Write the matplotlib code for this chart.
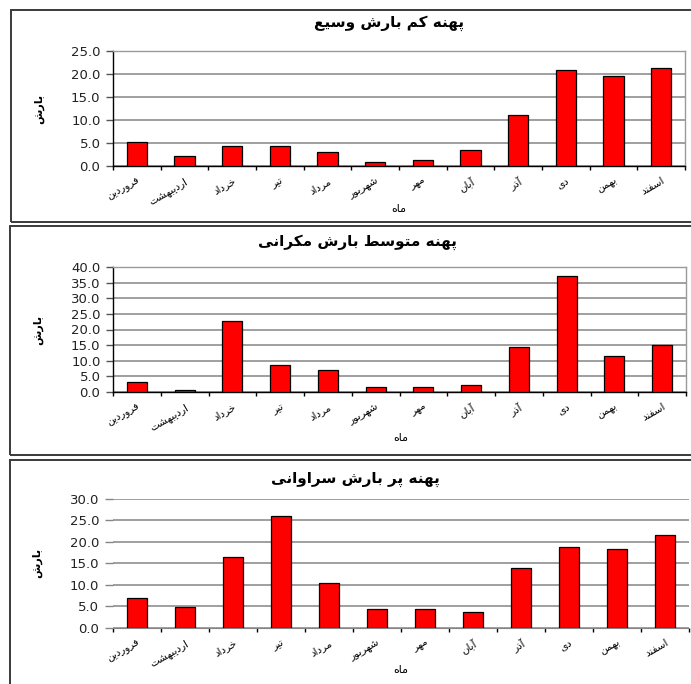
import numpy as np
import matplotlib
matplotlib.use("Agg")
import matplotlib.pyplot as plt
from matplotlib.patches import Rectangle
from matplotlib.ticker import FormatStrFormatter

plt.rcParams['font.family'] = ['DejaVu Sans']

# ---- data -------------------------------------------------------------
months = ["فروردین", "اردیبهشت", "خرداد", "تیر", "مرداد", "شهریور",
          "مهر", "آبان", "آذر", "دی", "بهمن", "اسفند"]

titles = ["پهنه کم بارش وسیع",
          "پهنه متوسط بارش مکرانی",
          "پهنه پر بارش سراوانی"]

y_label = "بارش"
x_label = "ماه"

rain_low = [5.2, 2.1, 4.4, 4.4, 3.0, 0.9, 1.2, 3.5, 11.0, 20.8, 19.5, 21.4]
rain_mid = [3.3, 0.7, 22.6, 8.7, 6.9, 1.7, 1.5, 2.3, 14.3, 37.0, 11.5, 14.9]
rain_high = [7.0, 4.9, 16.4, 25.9, 10.4, 4.5, 4.5, 3.8, 13.8, 18.7, 18.4, 21.5]

y_max = [25, 40, 30]

# ---- minimal Persian shaping (contextual forms + right-to-left order) --
_FORMS = {
    'ا': ('\uFE8D', '\uFE8E', None, None),
    'آ': ('\uFE81', '\uFE82', None, None),
    'ب': ('\uFE8F', '\uFE90', '\uFE91', '\uFE92'),
    'پ': ('\uFB56', '\uFB57', '\uFB58', '\uFB59'),
    'ت': ('\uFE95', '\uFE96', '\uFE97', '\uFE98'),
    'خ': ('\uFEA5', '\uFEA6', '\uFEA7', '\uFEA8'),
    'د': ('\uFEA9', '\uFEAA', None, None),
    'ذ': ('\uFEAB', '\uFEAC', None, None),
    'ر': ('\uFEAD', '\uFEAE', None, None),
    'ز': ('\uFEAF', '\uFEB0', None, None),
    'س': ('\uFEB1', '\uFEB2', '\uFEB3', '\uFEB4'),
    'ش': ('\uFEB5', '\uFEB6', '\uFEB7', '\uFEB8'),
    'ط': ('\uFEC1', '\uFEC2', '\uFEC3', '\uFEC4'),
    'ع': ('\uFEC9', '\uFECA', '\uFECB', '\uFECC'),
    'ف': ('\uFED1', '\uFED2', '\uFED3', '\uFED4'),
    'ک': ('\uFB8E', '\uFB8F', '\uFB90', '\uFB91'),
    'م': ('\uFEE1', '\uFEE2', '\uFEE3', '\uFEE4'),
    'ن': ('\uFEE5', '\uFEE6', '\uFEE7', '\uFEE8'),
    'ه': ('\uFEE9', '\uFEEA', '\uFEEB', '\uFEEC'),
    'و': ('\uFEED', '\uFEEE', None, None),
    'ی': ('\uFBFC', '\uFBFD', '\uFBFE', '\uFBFF'),
}


def _joins_forward(ch):
    f = _FORMS.get(ch)
    return f is not None and f[2] is not None


def fa(text):
    out = []
    n = len(text)
    for i, ch in enumerate(text):
        f = _FORMS.get(ch)
        if f is None:
            out.append(ch)
            continue
        prev_j = i > 0 and _joins_forward(text[i - 1])
        next_j = (i + 1 < n and text[i + 1] in _FORMS and f[2] is not None)
        if prev_j and next_j:
            out.append(f[3])
        elif prev_j:
            out.append(f[1])
        elif next_j:
            out.append(f[2])
        else:
            out.append(f[0])
    return ''.join(out)[::-1]


# ---- figure -----------------------------------------------------------
W, H = 691, 684
fig = plt.figure(figsize=(W / 100, H / 100), dpi=100)


def fx(px):
    return px / W


def fy(py):
    return 1 - py / H


# panel frames (top, bottom, left) in pixels
frames = [(10, 221.5, 11), (226, 455, 10), (459.5, 700, 10)]
for top, bot, left in frames:
    fig.add_artist(Rectangle((fx(left), fy(bot)), fx(W + 50 - left),
                             (bot - top) / H, transform=fig.transFigure,
                             fill=False, edgecolor='#3a3a3a', lw=1.4))

# axes extents in pixels: left, right, top, bottom
boxes = [(113, 685, 51, 166), (113, 686, 267, 392), (113, 689, 498.5, 628)]
title_pos = [(389, 23), (358, 242), (355, 479)]
ylab_pos = [(39, 109), (38, 330), (37, 563)]
xlab_pos = [(399, 209), (401, 438), (401, 670)]

series = [rain_low, rain_mid, rain_high]
x = np.arange(len(months))

for k in range(3):
    l, r, t, b = boxes[k]
    ax = fig.add_axes([fx(l), fy(b), (r - l) / W, (b - t) / H])
    ax.bar(x, series[k], width=0.42, color='#ff0000', edgecolor='black',
           linewidth=0.9, zorder=3)
    ax.set_xlim(-0.5, 11.5)
    ax.set_ylim(0, y_max[k])
    ax.set_yticks(np.arange(0, y_max[k] + 0.1, 5))
    ax.yaxis.set_major_formatter(FormatStrFormatter('%.1f'))
    ax.yaxis.grid(True, color='#858585', lw=1.1, zorder=0)
    ax.set_axisbelow(True)

    ax.set_xticks(x)
    ax.set_xticklabels([fa(m) for m in months], rotation=30, ha='right',
                       rotation_mode='anchor', fontsize=7.5)
    ax.tick_params(axis='x', which='major', length=0, pad=7)
    ax.set_xticks(np.arange(-0.5, 12, 1), minor=True)
    ax.tick_params(axis='x', which='minor', length=3, width=1, color='black')
    ax.tick_params(axis='y', labelsize=9.5, length=5, width=1, pad=4,
                   color='#555555', labelcolor='#222222')

    if k < 2:
        ax.spines['left'].set_color('black')
        ax.spines['bottom'].set_color('black')
        ax.spines['top'].set_color('#9a9a9a')
        ax.spines['right'].set_color('#9a9a9a')
        for s in ax.spines.values():
            s.set_linewidth(1.0)
    else:
        for s in ('left', 'right', 'top'):
            ax.spines[s].set_visible(False)
        ax.spines['bottom'].set_color('#858585')
        ax.tick_params(axis='y', length=6, color='#858585')

    tx, ty = title_pos[k]
    fig.text(fx(tx), fy(ty), fa(titles[k]), ha='center', va='center',
             fontsize=11, fontweight='bold')
    lx, ly = ylab_pos[k]
    fig.text(fx(lx), fy(ly), fa(y_label), ha='center', va='center',
             rotation=90, fontsize=8, fontweight='bold')
    mx, my = xlab_pos[k]
    fig.text(fx(mx), fy(my), fa(x_label), ha='center', va='center',
             fontsize=8)

fig.savefig("out.png", dpi=100)
